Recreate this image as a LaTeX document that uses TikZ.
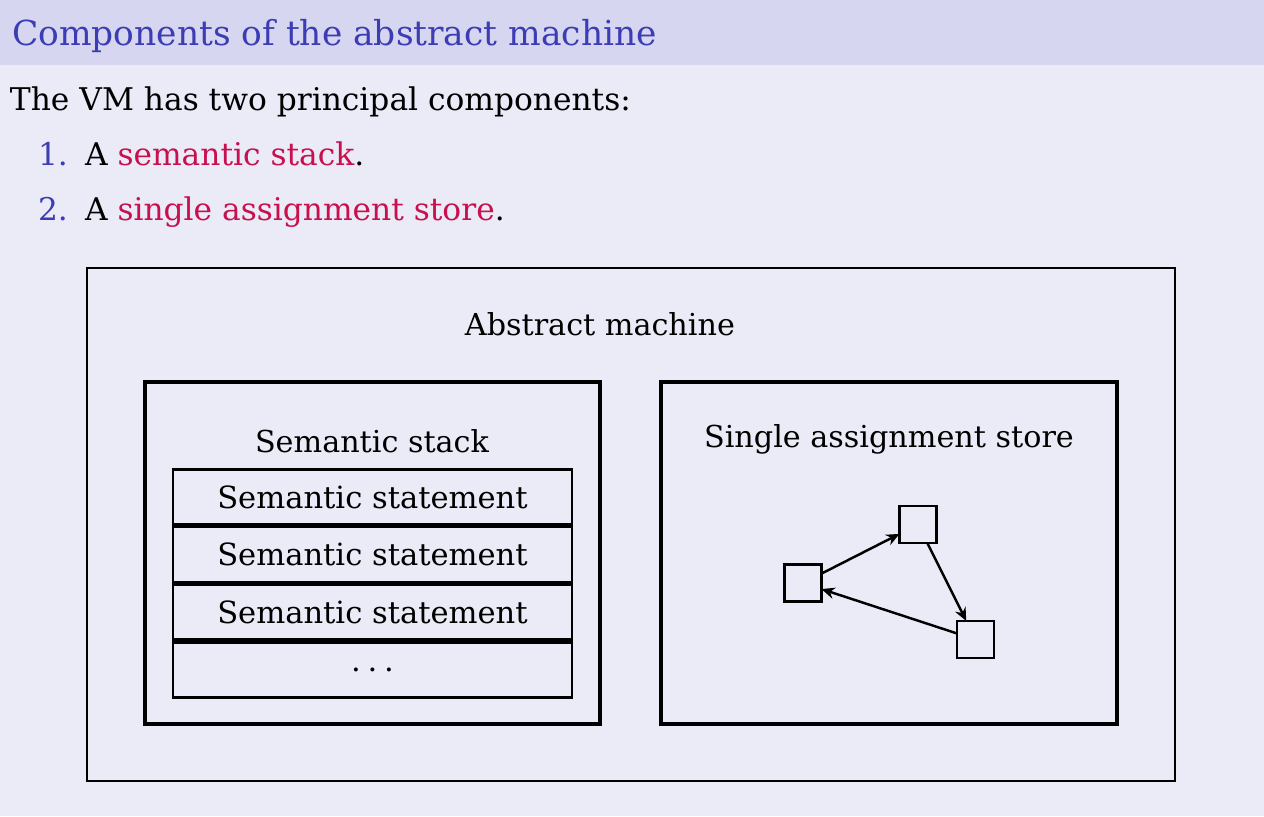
\documentclass[tikz,border=0pt]{standalone}
\usepackage{fontspec}
\setmainfont{DejaVu Serif}
\usepackage[x11names]{xcolor}
\usetikzlibrary{calc, positioning, arrows.meta, backgrounds}
\definecolor{slidebg}{HTML}{EBEBF7}
\definecolor{titlebg}{HTML}{D6D6F0}
\definecolor{structblue}{HTML}{3C3CB4}
\definecolor{alertred}{HTML}{C8104E}
\newcommand\hilite[1]{\textcolor{alertred}{#1}}

\begin{document}
\begin{tikzpicture}[x=0.02cm,y=-0.02cm,
    every node/.style={inner sep=0pt,outer sep=0pt},
    titletext/.style={anchor=base west,text=structblue,font=\fontsize{19.6}{23}\selectfont},
    bodytext/.style={anchor=base west,font=\fontsize{17.8}{21}\selectfont},
    boxlabel/.style={anchor=base,font=\fontsize{17.2}{20}\selectfont},
    cell/.style={draw,line width=1.5pt,outer sep=0.75pt,minimum width=7.98cm,minimum height=1.1cm,font=\fontsize{17.4}{20}\selectfont},
    vertex/.style={draw,line width=1.5pt,minimum size=0.74cm},
    edge/.style={line width=1.4pt,-{Stealth[length=7.5pt,width=6.5pt]}}]
  \useasboundingbox (0,0) rectangle (1264,816);
  \fill[slidebg] (0,0) rectangle (1264,816);
  \fill[titlebg] (0,0) rectangle (1264,65);
  % slide text
  \node[titletext] (title) at (12,45) {Components of the abstract machine};
  \node[bodytext] (intro) at (10,110) {The VM has two principal components:};
  \node[bodytext,text=structblue] (num1) at (38,165) {1.};
  \node[bodytext] (item1) at (85,165) {A \hilite{semantic stack}.};
  \node[bodytext,text=structblue] (num2) at (38,220) {2.};
  \node[bodytext] (item2) at (85,220) {A \hilite{single assignment store}.};
  % abstract machine
  \draw[line width=1.4pt] (87,268) rectangle (1175,781);
  \node[boxlabel] (machinelbl) at (600,335) {Abstract machine};
  \draw[line width=1.8pt] (145,382) rectangle (600,724);
  \node[boxlabel] (stacklbl) at (372,452) {Semantic stack};
  \node[cell] (cell1) at (372.5,497) {Semantic statement};
  \node[cell,below=0pt of cell1] (cell2) {Semantic statement};
  \node[cell,below=0pt of cell2] (cell3) {Semantic statement};
  \node[cell,below=0pt of cell3] (cell4) {.\hspace{0.22em}.\hspace{0.22em}.};
  \draw[line width=1.8pt] (661,382) rectangle (1117,724);
  \node[boxlabel] (storelbl) at (889,447) {Single assignment store};
  \node[vertex] (v1) at (803,583) {};
  \node[vertex] (v2) at (918,524.5) {};
  \node[vertex] (v3) at (975.5,639.5) {};
  \draw[edge] (v1) -- (v2);
  \draw[edge] (v2) -- (v3);
  \draw[edge] (v3) -- (v1);
\end{tikzpicture}
\end{document}
